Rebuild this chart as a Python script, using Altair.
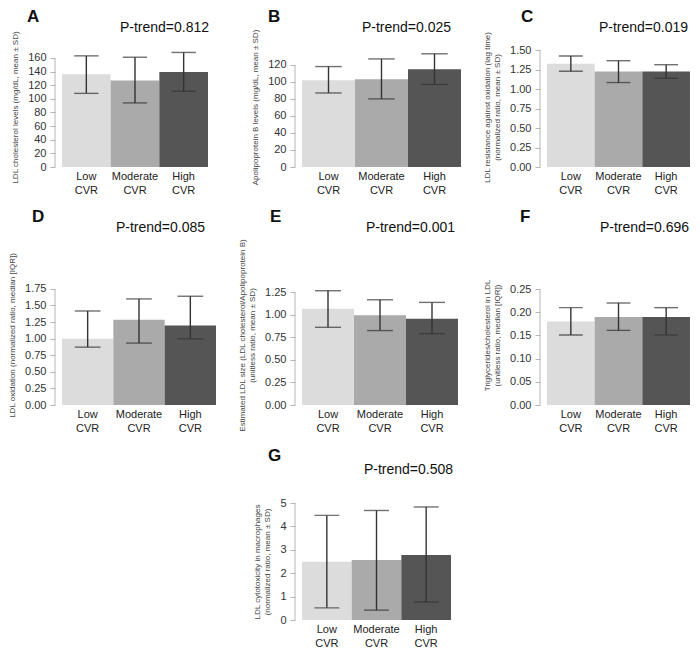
import altair as alt
import pandas as pd

# ---------------- data ----------------
groups = ["Low CVR", "Moderate CVR", "High CVR"]
colors = ["#dcdcdc", "#aaaaaa", "#555555"]

letters = ["A", "B", "C", "D", "E", "F", "G"]
ptrends = ["P-trend=0.812", "P-trend=0.025", "P-trend=0.019", "P-trend=0.085",
           "P-trend=0.001", "P-trend=0.696", "P-trend=0.508"]

ytitles = [
    "LDL cholesterol levels (mg/dL, mean \u00b1 SD)",
    "Apolipoprotein B levels (mg/dL, mean \u00b1 SD)",
    ["LDL resistance against oxidation (lag time)", "(normalized ratio, mean \u00b1 SD)"],
    "LDL oxidation (normalized ratio, median [IQR])",
    ["Estimated LDL size (LDL cholesterol/Apolipoprotein B)", "(unitless ratio, mean \u00b1 SD)"],
    ["Triglycerides/cholesterol in LDL", "(unitless ratio, median [IQR])"],
    ["LDL cytotoxicity in macrophages", "(normalized ratio, mean \u00b1 SD)"],
]

A_mean = [136, 127, 139.5]
A_lo = [108, 94, 111]
A_hi = [163, 161, 168]
A_ticks = [0, 20, 40, 60, 80, 100, 120, 140, 160]

B_mean = [102, 103, 115]
B_lo = [87, 80, 97]
B_hi = [118, 127, 133]
B_ticks = [0, 20, 40, 60, 80, 100, 120]

C_mean = [1.326, 1.224, 1.224]
C_lo = [1.228, 1.084, 1.139]
C_hi = [1.424, 1.364, 1.313]
C_ticks = [0, 0.25, 0.5, 0.75, 1.0, 1.25, 1.5]

D_mean = [0.998, 1.286, 1.20]
D_lo = [0.872, 0.933, 0.998]
D_hi = [1.417, 1.599, 1.639]
D_ticks = [0, 0.25, 0.5, 0.75, 1.0, 1.25, 1.5, 1.75]

E_mean = [1.066, 0.993, 0.956]
E_lo = [0.86, 0.824, 0.79]
E_hi = [1.265, 1.165, 1.136]
E_ticks = [0, 0.25, 0.5, 0.75, 1.0, 1.25]

F_mean = [0.180, 0.190, 0.190]
F_lo = [0.151, 0.161, 0.151]
F_hi = [0.210, 0.220, 0.210]
F_ticks = [0, 0.05, 0.10, 0.15, 0.20, 0.25]

G_mean = [2.49, 2.56, 2.78]
G_lo = [0.52, 0.42, 0.77]
G_hi = [4.47, 4.68, 4.83]
G_ticks = [0, 1, 2, 3, 4, 5]

FONT = "Liberation Sans"


def panel(idx, mean, lo, hi, ticks, fmt, ymax, width, height,
          letter_dx, letter_dy, p_dx, p_dy):
    df = pd.DataFrame({"group": groups, "mean": mean, "lo": lo, "hi": hi})
    base = alt.Chart(df)
    yscale = alt.Scale(domain=[0, ymax], nice=False, zero=True)
    yaxis = alt.Axis(values=ticks, format=fmt, grid=False, domain=False,
                     labelOverlap=False, labelBound=False, labelFlush=False,
                     tickSize=5, tickColor="#b5b5b5", offset=7,
                     labelFontSize=11, labelColor="#333333", labelPadding=4,
                     title=ytitles[idx], titleFontSize=8, titleFontWeight="normal",
                     titleColor="#444444", titlePadding=8)
    xenc = alt.X("group:N", sort=groups,
                 scale=alt.Scale(paddingInner=0, paddingOuter=0),
                 axis=alt.Axis(title=None, ticks=False, domain=False, labelAngle=0,
                               labelExpr="split(datum.label, ' ')",
                               labelFontSize=11, labelLineHeight=14,
                               labelPadding=3, labelColor="#222222"))
    bars = base.mark_bar().encode(
        x=xenc,
        y=alt.Y("mean:Q", scale=yscale, axis=yaxis),
        color=alt.Color("group:N", scale=alt.Scale(domain=groups, range=colors), legend=None),
    )
    whisk = base.mark_rule(color="#333333", strokeWidth=1.4).encode(
        x=xenc, y=alt.Y("lo:Q", scale=yscale, axis=yaxis), y2="hi:Q")
    cap = width / 6.0
    cap_lo = base.mark_tick(color="#333333", thickness=1.4, size=cap).encode(
        x=xenc, y=alt.Y("lo:Q", scale=yscale, axis=yaxis))
    cap_hi = base.mark_tick(color="#333333", thickness=1.4, size=cap).encode(
        x=xenc, y=alt.Y("hi:Q", scale=yscale, axis=yaxis))
    axline = alt.Chart(pd.DataFrame({"a": [0]})).mark_rule(
        color="#b5b5b5", strokeWidth=1).encode(
        x=alt.value(-7),
        y=alt.YDatum(0, scale=yscale, axis=yaxis, type="quantitative"),
        y2=alt.Y2Datum(ticks[-1]))
    letter_t = alt.Chart(pd.DataFrame({"t": [letters[idx]]})).mark_text(
        align="left", baseline="alphabetic", fontSize=17, fontWeight="bold",
        font=FONT, color="#111111").encode(
        text="t:N", x=alt.value(letter_dx), y=alt.value(letter_dy))
    p_t = alt.Chart(pd.DataFrame({"t": [ptrends[idx]]})).mark_text(
        align="right", baseline="middle", fontSize=14,
        font=FONT, color="#111111").encode(
        text="t:N", x=alt.value(width + p_dx), y=alt.value(p_dy))
    return alt.layer(bars, whisk, cap_lo, cap_hi, axline, letter_t, p_t).properties(
        width=width, height=height)


H1, H2, H3 = 120, 140, 117

pA = panel(0, A_mean, A_lo, A_hi, A_ticks, "d", 176, 146, H1, -35, -25, 1, -19)
pB = panel(1, B_mean, B_lo, B_hi, B_ticks, "d", 141, 159, H1, -34, -25, -10, -19)
pC = panel(2, C_mean, C_lo, C_hi, C_ticks, ".2f", 1.54, 143, H1, -26, -25, -2, -19)
pD = panel(3, D_mean, D_lo, D_hi, D_ticks, ".2f", 2.11, 154, H2, -30, -43, -11, -37)
pE = panel(4, E_mean, E_lo, E_hi, E_ticks, ".2f", 1.55, 156, H2, -32, -43, -3, -37)
pF = panel(5, F_mean, F_lo, F_hi, F_ticks, ".2f", 0.302, 143, H2, -27, -43, -1, -37)
pG = panel(6, G_mean, G_lo, G_hi, G_ticks, "d", 5.0, 149, H3, -34, -42, 2, -33)

blank = alt.Chart(pd.DataFrame({"v": [0]})).mark_point(opacity=0).encode(
    x=alt.value(0), y=alt.value(0)).properties(width=10, height=H3)

chart = alt.concat(
    pA, pB, pC, pD, pE, pF, blank, pG,
    columns=3,
    spacing={"row": 98, "column": 86},
    bounds="flush",
    align="each",
    padding=0,
).configure(font=FONT).configure_view(stroke=None)

chart.save("out.html", embed_options={"renderer": "svg", "actions": False})
